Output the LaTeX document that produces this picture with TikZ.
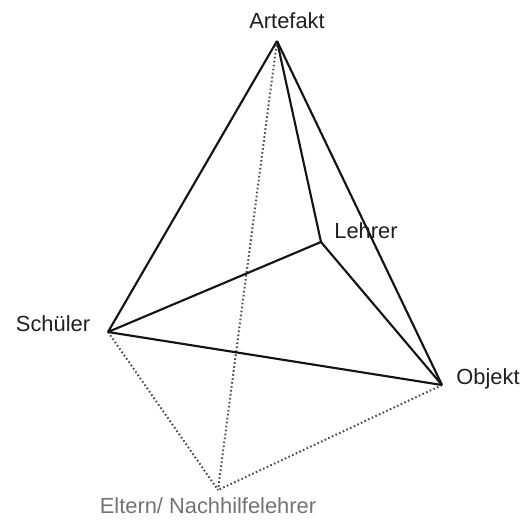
\documentclass[tikz,border=0pt]{standalone}
\usepackage{fontspec}
\setmainfont{Liberation Sans}
\begin{document}
\begin{tikzpicture}[x=0.75pt,y=-0.75pt,
  edge/.style={line width=1.6pt,black!92},
  hidden/.style={line width=1.5pt,black!70,dash pattern=on 1.2pt off 1.8pt},
  lbl/.style={font=\fontsize{16.4}{19}\selectfont,text=black!88,inner sep=0pt},
  glbl/.style={font=\fontsize{16.4}{19}\selectfont,text=black!55,inner sep=0pt}]
\useasboundingbox (0,0) rectangle (528,519);
\coordinate (A) at (277,41);
\coordinate (L) at (321,242);
\coordinate (S) at (108,332);
\coordinate (O) at (442,385);
\coordinate (E) at (218,490);
\draw[hidden] (A) -- (E);
\draw[hidden] (S) -- (E);
\draw[hidden] (O) -- (E);
\draw[edge,line join=miter] (A) -- (S);
\draw[edge] (A) -- (L);
\draw[edge] (A) -- (O);
\draw[edge] (S) -- (L);
\draw[edge] (S) -- (O);
\draw[edge] (L) -- (O);
\node[lbl] (tA) at (287,21) {Artefakt};
\node[lbl] (tL) at (366,231) {Lehrer};
\node[lbl] (tS) at (53,324) {Schüler};
\node[lbl] (tO) at (488,379) {Objekt};
\node[glbl] (tE) at (208,506) {Eltern/ Nachhilfelehrer};
\end{tikzpicture}
\end{document}
